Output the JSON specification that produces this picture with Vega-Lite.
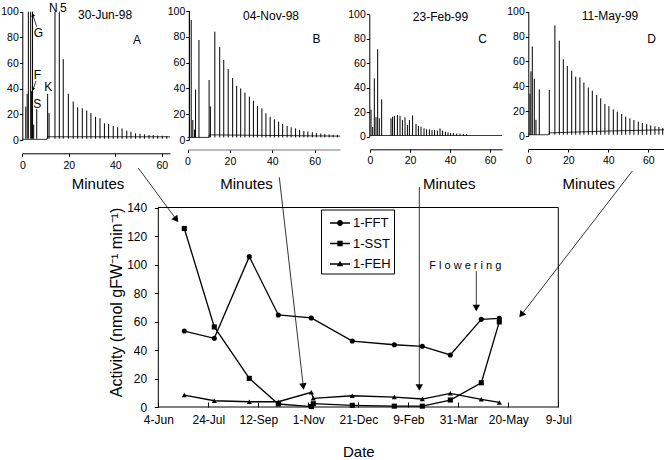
{
  "$schema": "https://vega.github.io/schema/vega-lite/v6.json",
  "width": 664,
  "height": 460,
  "autosize": {"type": "none"},
  "padding": 0,
  "config": {
    "font": "Liberation Sans",
    "view": {"stroke": null},
    "axis": {"grid": false, "domainColor": "black", "tickColor": "black", "labelColor": "black", "titleColor": "black", "titleFontWeight": "normal", "labelFlush": false, "labelOverlap": false, "labelBound": false},
    "text": {"color": "black"}
  },
  "datasets": {
    "main": [
      {"date": "1998-06-30", "series": "1-FFT", "value": 53.3},
      {"date": "1998-07-30", "series": "1-FFT", "value": 48.2},
      {"date": "1998-09-03", "series": "1-FFT", "value": 105.5},
      {"date": "1998-10-02", "series": "1-FFT", "value": 64.6},
      {"date": "1998-11-04", "series": "1-FFT", "value": 62.5},
      {"date": "1998-12-15", "series": "1-FFT", "value": 46.3},
      {"date": "1999-01-26", "series": "1-FFT", "value": 43.7},
      {"date": "1999-02-23", "series": "1-FFT", "value": 42.6},
      {"date": "1999-03-23", "series": "1-FFT", "value": 36.5},
      {"date": "1999-04-23", "series": "1-FFT", "value": 61.5},
      {"date": "1999-05-11", "series": "1-FFT", "value": 62.2},
      {"date": "1998-06-30", "series": "1-SST", "value": 125.3},
      {"date": "1998-07-30", "series": "1-SST", "value": 56.2},
      {"date": "1998-09-03", "series": "1-SST", "value": 20.1},
      {"date": "1998-10-02", "series": "1-SST", "value": 2.1},
      {"date": "1998-11-04", "series": "1-SST", "value": 0.3},
      {"date": "1998-11-06", "series": "1-SST", "value": 2.3},
      {"date": "1998-12-15", "series": "1-SST", "value": 1.2},
      {"date": "1999-01-26", "series": "1-SST", "value": 0.6},
      {"date": "1999-02-23", "series": "1-SST", "value": 0.6},
      {"date": "1999-03-23", "series": "1-SST", "value": 4.9},
      {"date": "1999-04-23", "series": "1-SST", "value": 17},
      {"date": "1999-05-11", "series": "1-SST", "value": 59.7},
      {"date": "1998-06-30", "series": "1-FEH", "value": 8.4},
      {"date": "1998-07-30", "series": "1-FEH", "value": 4.4},
      {"date": "1998-09-03", "series": "1-FEH", "value": 3.7},
      {"date": "1998-10-02", "series": "1-FEH", "value": 3.7},
      {"date": "1998-11-04", "series": "1-FEH", "value": 10.3},
      {"date": "1998-11-06", "series": "1-FEH", "value": 6.1},
      {"date": "1998-12-15", "series": "1-FEH", "value": 7.9},
      {"date": "1999-01-26", "series": "1-FEH", "value": 7.0},
      {"date": "1999-02-23", "series": "1-FEH", "value": 5.6},
      {"date": "1999-03-23", "series": "1-FEH", "value": 9.6},
      {"date": "1999-04-23", "series": "1-FEH", "value": 5.4},
      {"date": "1999-05-11", "series": "1-FEH", "value": 3.2}
    ],
    "arrows": [
      {"id": "A", "date": "1998-05-15", "value": 167.7, "date2": "1998-06-22", "value2": 131.6, "angle": 143},
      {"id": "B", "date": "1998-10-03", "value": 161.2, "date2": "1998-10-27", "value2": 14.4, "angle": 173.5},
      {"id": "C", "date": "1999-02-20", "value": 154.4, "date2": "1999-02-20", "value2": 13.7, "angle": 180},
      {"id": "D", "date": "1999-09-21", "value": 165.6, "date2": "1999-06-02", "value2": 64.7, "angle": 217.7},
      {"id": "Flowering", "date": "1999-04-18", "value": 95.4, "date2": "1999-04-18", "value2": 69.5, "angle": 180}
    ],
    "notes": [
      {"label": "F l o w e r i n g", "date": "1999-04-07", "value": 96.6}
    ],
    "baselines": [
      {"inset": "A", "min": 0, "b": 0.5}, {"inset": "A", "min": 10.6, "b": 0.5}, {"inset": "A", "min": 10.8, "b": 2.5}, {"inset": "A", "min": 63.5, "b": 2.5},
      {"inset": "B", "min": 0, "b": 2}, {"inset": "B", "min": 10, "b": 2}, {"inset": "B", "min": 10.3, "b": 4}, {"inset": "B", "min": 72, "b": 3},
      {"inset": "C", "min": 0, "b": 1}, {"inset": "C", "min": 66, "b": 1},
      {"inset": "D", "min": 0, "b": 1}, {"inset": "D", "min": 10.2, "b": 1}, {"inset": "D", "min": 10.4, "b": 2.5}, {"inset": "D", "min": 40, "b": 4}, {"inset": "D", "min": 68, "b": 5}
    ],
    "peaks": [
      {"inset": "A", "min": 1.5, "h": 26}, {"inset": "A", "min": 2.1, "h": 36}, {"inset": "A", "min": 2.6, "h": 100}, {"inset": "A", "min": 3.6, "h": 100}, {"inset": "A", "min": 4.0, "h": 38}, {"inset": "A", "min": 4.4, "h": 100}, {"inset": "A", "min": 4.9, "h": 12}, {"inset": "A", "min": 6.2, "h": 24},
      {"inset": "A", "min": 10.9, "h": 36}, {"inset": "A", "min": 11.5, "h": 21}, {"inset": "A", "min": 14.05, "h": 100}, {"inset": "A", "min": 15.9, "h": 100}, {"inset": "A", "min": 17.6, "h": 63}, {"inset": "A", "min": 19.8, "h": 36}, {"inset": "A", "min": 21.9, "h": 30}, {"inset": "A", "min": 23.8, "h": 25.5},
      {"inset": "A", "min": 25.8, "h": 24.7}, {"inset": "A", "min": 27.7, "h": 23}, {"inset": "A", "min": 29.5, "h": 21}, {"inset": "A", "min": 31.5, "h": 18}, {"inset": "A", "min": 33.4, "h": 17}, {"inset": "A", "min": 35.3, "h": 13}, {"inset": "A", "min": 37.1, "h": 12.5}, {"inset": "A", "min": 39.1, "h": 11},
      {"inset": "A", "min": 41.0, "h": 10}, {"inset": "A", "min": 42.9, "h": 9}, {"inset": "A", "min": 44.9, "h": 7.3}, {"inset": "A", "min": 46.7, "h": 6.5}, {"inset": "A", "min": 48.7, "h": 5.2}, {"inset": "A", "min": 50.6, "h": 4.8}, {"inset": "A", "min": 52.5, "h": 4.4}, {"inset": "A", "min": 54.5, "h": 4},
      {"inset": "A", "min": 56.3, "h": 3.8}, {"inset": "A", "min": 58.2, "h": 3.5}, {"inset": "A", "min": 60.2, "h": 3.3}, {"inset": "A", "min": 62.1, "h": 3.1},
      {"inset": "B", "min": 0.95, "h": 100}, {"inset": "B", "min": 1.75, "h": 93}, {"inset": "B", "min": 2.5, "h": 15.5}, {"inset": "B", "min": 3.3, "h": 8}, {"inset": "B", "min": 3.8, "h": 39}, {"inset": "B", "min": 5.4, "h": 77.5}, {"inset": "B", "min": 10.2, "h": 46.5}, {"inset": "B", "min": 10.8, "h": 26},
      {"inset": "B", "min": 12.9, "h": 84}, {"inset": "B", "min": 15.2, "h": 72}, {"inset": "B", "min": 17.1, "h": 62}, {"inset": "B", "min": 19.2, "h": 55}, {"inset": "B", "min": 21.3, "h": 48}, {"inset": "B", "min": 23.2, "h": 42}, {"inset": "B", "min": 25.1, "h": 40}, {"inset": "B", "min": 27.1, "h": 36.7},
      {"inset": "B", "min": 29.2, "h": 33.6}, {"inset": "B", "min": 31.1, "h": 30.5}, {"inset": "B", "min": 33.0, "h": 26.4}, {"inset": "B", "min": 35.1, "h": 24.5}, {"inset": "B", "min": 37.0, "h": 20.7}, {"inset": "B", "min": 39.0, "h": 18}, {"inset": "B", "min": 41.0, "h": 16}, {"inset": "B", "min": 43.0, "h": 14.2},
      {"inset": "B", "min": 44.9, "h": 12.4}, {"inset": "B", "min": 47.0, "h": 10.9}, {"inset": "B", "min": 48.9, "h": 9.8}, {"inset": "B", "min": 51.0, "h": 9}, {"inset": "B", "min": 52.9, "h": 7.8}, {"inset": "B", "min": 54.9, "h": 7}, {"inset": "B", "min": 56.8, "h": 6.5}, {"inset": "B", "min": 58.9, "h": 6},
      {"inset": "B", "min": 60.8, "h": 5.5}, {"inset": "B", "min": 62.9, "h": 5}, {"inset": "B", "min": 64.8, "h": 4.7}, {"inset": "B", "min": 66.8, "h": 4.3}, {"inset": "B", "min": 68.7, "h": 4}, {"inset": "B", "min": 70.7, "h": 3.8},
      {"inset": "C", "min": 0.5, "h": 22}, {"inset": "C", "min": 1.33, "h": 8}, {"inset": "C", "min": 2.17, "h": 47.7}, {"inset": "C", "min": 3.0, "h": 16}, {"inset": "C", "min": 3.83, "h": 71.4}, {"inset": "C", "min": 4.67, "h": 15}, {"inset": "C", "min": 5.83, "h": 30.5},
      {"inset": "C", "min": 10.5, "h": 15}, {"inset": "C", "min": 11.3, "h": 16.3}, {"inset": "C", "min": 12.2, "h": 17}, {"inset": "C", "min": 13.7, "h": 17.7}, {"inset": "C", "min": 15.0, "h": 17}, {"inset": "C", "min": 16.2, "h": 13.6}, {"inset": "C", "min": 17.5, "h": 15.8}, {"inset": "C", "min": 18.7, "h": 9.5},
      {"inset": "C", "min": 19.7, "h": 13.6}, {"inset": "C", "min": 21.3, "h": 17.4}, {"inset": "C", "min": 23.0, "h": 10.4}, {"inset": "C", "min": 24.2, "h": 8.7}, {"inset": "C", "min": 25.5, "h": 8.2}, {"inset": "C", "min": 27.0, "h": 6.8}, {"inset": "C", "min": 28.3, "h": 6}, {"inset": "C", "min": 29.7, "h": 6},
      {"inset": "C", "min": 31.0, "h": 5.5}, {"inset": "C", "min": 32.3, "h": 5.5}, {"inset": "C", "min": 33.7, "h": 5}, {"inset": "C", "min": 35.0, "h": 6.8}, {"inset": "C", "min": 36.3, "h": 5}, {"inset": "C", "min": 37.7, "h": 4}, {"inset": "C", "min": 39.0, "h": 3.5}, {"inset": "C", "min": 40.3, "h": 3},
      {"inset": "C", "min": 41.7, "h": 3}, {"inset": "C", "min": 43.3, "h": 2.5}, {"inset": "C", "min": 45.0, "h": 2.5}, {"inset": "C", "min": 46.7, "h": 2.2}, {"inset": "C", "min": 48.3, "h": 2},
      {"inset": "D", "min": 0.83, "h": 34}, {"inset": "D", "min": 1.33, "h": 52}, {"inset": "D", "min": 2.0, "h": 72}, {"inset": "D", "min": 3.0, "h": 46}, {"inset": "D", "min": 3.83, "h": 13}, {"inset": "D", "min": 5.5, "h": 37.5}, {"inset": "D", "min": 10.5, "h": 37}, {"inset": "D", "min": 13.3, "h": 89},
      {"inset": "D", "min": 15.5, "h": 76.7}, {"inset": "D", "min": 17.5, "h": 61.7}, {"inset": "D", "min": 19.5, "h": 56.3}, {"inset": "D", "min": 21.7, "h": 52.5}, {"inset": "D", "min": 23.7, "h": 47.7}, {"inset": "D", "min": 25.8, "h": 47.2}, {"inset": "D", "min": 27.8, "h": 43}, {"inset": "D", "min": 30.0, "h": 39},
      {"inset": "D", "min": 32.0, "h": 36.5}, {"inset": "D", "min": 34.2, "h": 33}, {"inset": "D", "min": 36.2, "h": 30.3}, {"inset": "D", "min": 38.3, "h": 25.7}, {"inset": "D", "min": 40.3, "h": 24}, {"inset": "D", "min": 42.5, "h": 21.4}, {"inset": "D", "min": 44.5, "h": 19.6}, {"inset": "D", "min": 46.7, "h": 17.7},
      {"inset": "D", "min": 48.7, "h": 15.5}, {"inset": "D", "min": 50.8, "h": 14.2}, {"inset": "D", "min": 52.8, "h": 12.9}, {"inset": "D", "min": 55.0, "h": 11.5}, {"inset": "D", "min": 57.0, "h": 10.5}, {"inset": "D", "min": 59.2, "h": 9.5}, {"inset": "D", "min": 61.2, "h": 8.5}, {"inset": "D", "min": 63.3, "h": 7.8},
      {"inset": "D", "min": 65.3, "h": 7.2}, {"inset": "D", "min": 67.2, "h": 6.5}
    ],
    "insetText": [
      {"inset": "A", "min": 35.6, "pct": 97.4, "label": "30-Jun-98"},
      {"inset": "A", "min": 49.3, "pct": 78, "label": "A"},
      {"inset": "A", "min": 13.3, "pct": 102.5, "label": "N"},
      {"inset": "A", "min": 17.6, "pct": 102.5, "label": "5"},
      {"inset": "A", "min": 6.9, "pct": 83.2, "label": "G"},
      {"inset": "A", "min": 6.45, "pct": 50.7, "label": "F"},
      {"inset": "A", "min": 6.45, "pct": 28, "label": "S"},
      {"inset": "A", "min": 11.2, "pct": 41.5, "label": "K"},
      {"inset": "B", "min": 39.4, "pct": 96.1, "label": "04-Nov-98"},
      {"inset": "B", "min": 60.9, "pct": 78, "label": "B"},
      {"inset": "C", "min": 35.25, "pct": 98, "label": "23-Feb-99"},
      {"inset": "C", "min": 56.35, "pct": 79.6, "label": "C"},
      {"inset": "D", "min": 40.85, "pct": 96.5, "label": "11-May-99"},
      {"inset": "D", "min": 61.7, "pct": 77.8, "label": "D"}
    ],
    "insetArrows": [
      {"min": 6.2, "pct": 88.3, "min2": 4.5, "pct2": 97.5, "angle": -18},
      {"min": 5.9, "pct": 46, "min2": 4.6, "pct2": 39.5, "angle": 200}
    ]
  },
  "layer": [
    {
      "resolve": {"scale": {"shape": "independent"}, "legend": {"shape": "independent"}},
      "layer": [
        {
          "data": {"name": "main"},
          "mark": {"type": "line", "color": "black", "strokeWidth": 1.3},
          "encoding": {
            "x": {"field": "date", "type": "temporal", "scale": {"type": "utc", "domain": [{"year": 1998, "month": 6, "date": 4, "utc": true}, {"year": 1999, "month": 7, "date": 9, "utc": true}], "range": [158.3, 558.3]},
              "axis": {"orient": "bottom", "offset": -53, "domain": false,
                "values": [{"year": 1998, "month": 6, "date": 4, "utc": true}, {"year": 1998, "month": 7, "date": 24, "utc": true}, {"year": 1998, "month": 9, "date": 12, "utc": true}, {"year": 1998, "month": 11, "date": 1, "utc": true}, {"year": 1998, "month": 12, "date": 21, "utc": true}, {"year": 1999, "month": 2, "date": 9, "utc": true}, {"year": 1999, "month": 3, "date": 31, "utc": true}, {"year": 1999, "month": 5, "date": 20, "utc": true}, {"year": 1999, "month": 7, "date": 9, "utc": true}],
                "labelExpr": "utcFormat(datum.value, '%-d-%b')", "tickSize": -5, "labelPadding": 12.8, "labelFontSize": 12,
                "title": "Date", "titleFontSize": 15, "titleBaseline": "alphabetic", "titleY": 49.5}},
            "y": {"field": "value", "type": "quantitative", "scale": {"domain": [0, 140], "range": [407, 207.5], "nice": false, "zero": false},
              "axis": {"orient": "left", "offset": -158.3, "domain": false, "values": [0, 20, 40, 60, 80, 100, 120, 140], "tickSize": 4, "labelPadding": 7.6, "labelFontSize": 12,
                "title": "Activity (nmol gFW⁻¹ min⁻¹)", "titleFontSize": 16, "titleX": -41.5, "titleY": 302, "titleBaseline": "middle", "titleAlign": "center"}},
            "detail": {"field": "series", "type": "nominal"}
          }
        },
        {
          "data": {"values": [{}]},
          "mark": {"type": "rect", "fill": null, "stroke": "black", "strokeWidth": 1},
          "encoding": {
            "x": {"datum": {"year": 1998, "month": 6, "date": 4, "utc": true}, "type": "temporal"},
            "x2": {"datum": {"year": 1999, "month": 7, "date": 9, "utc": true}},
            "y": {"datum": 0, "type": "quantitative"},
            "y2": {"datum": 140}
          }
        },
        {
          "data": {"name": "main"},
          "mark": {"type": "point", "filled": true, "color": "black", "size": 26, "opacity": 1},
          "encoding": {
            "x": {"field": "date", "type": "temporal"},
            "y": {"field": "value", "type": "quantitative"},
            "shape": {"field": "series", "type": "nominal",
              "scale": {"domain": ["1-FFT", "1-SST", "1-FEH"], "range": ["circle", "square", "triangle-up"]},
              "legend": null}
          }
        },
        {
          "data": {"name": "main"},
          "transform": [{"filter": "false"}],
          "mark": {"type": "point", "filled": true, "color": "black", "opacity": 1},
          "encoding": {
            "x": {"field": "date", "type": "temporal"},
            "y": {"field": "value", "type": "quantitative"},
            "shape": {"field": "series", "type": "nominal",
              "scale": {"domain": ["1-FFT", "1-SST", "1-FEH"], "range": ["M-1,-0.065H1V0.065H-1ZM0.3,0A0.3,0.3,0,1,1,-0.3,0A0.3,0.3,0,1,1,0.3,0Z", "M-1,-0.065H1V0.065H-1ZM-0.27,-0.27H0.27V0.27H-0.27Z", "M-1,-0.065H1V0.065H-1ZM0,-0.33L0.32,0.23H-0.32Z"]},
              "legend": {"title": null, "orient": "none", "legendX": 321, "legendY": 209.5, "strokeColor": "black", "fillColor": "white", "padding": 2.5,
                "symbolOffset": 5.5, "symbolSize": 400, "rowPadding": 2.5, "labelFontSize": 13, "labelOffset": 2, "labelColor": "black",
                "symbolFillColor": "black", "symbolOpacity": 1}
            }
          }
        },
        {
          "data": {"name": "arrows"},
          "mark": {"type": "rule", "color": "black", "strokeWidth": 0.8},
          "encoding": {
            "x": {"field": "date", "type": "temporal"},
            "x2": {"field": "date2"},
            "y": {"field": "value", "type": "quantitative"},
            "y2": {"field": "value2"}
          }
        },
        {
          "data": {"name": "arrows"},
          "mark": {"type": "point", "shape": "triangle-up", "filled": true, "color": "black", "size": 55, "opacity": 1},
          "encoding": {
            "x": {"field": "date2", "type": "temporal"},
            "y": {"field": "value2", "type": "quantitative"},
            "angle": {"field": "angle", "type": "quantitative", "scale": null}
          }
        },
        {
          "data": {"name": "notes"},
          "mark": {"type": "text", "fontSize": 11, "align": "center", "baseline": "alphabetic"},
          "encoding": {
            "x": {"field": "date", "type": "temporal"},
            "y": {"field": "value", "type": "quantitative"},
            "text": {"field": "label"}
          }
        }
      ]
    },
    {
      "layer": [
        {
          "data": {"name": "baselines"},
          "transform": [{"filter": "datum.inset === 'A'"}],
          "mark": {"type": "line", "color": "black", "strokeWidth": 0.8},
          "encoding": {
            "x": {"field": "min", "type": "quantitative", "scale": {"domain": [0, 63.5], "range": [22.3, 170], "nice": false, "zero": false},
              "axis": {"orient": "bottom", "offset": -306.7, "values": [0, 20, 40, 60], "tickSize": 3, "labelPadding": 4, "labelFontSize": 10.5,
                "title": "Minutes", "titleFontSize": 15, "titleBaseline": "alphabetic", "titleX": 97.5, "titleY": 35}},
            "y": {"field": "b", "type": "quantitative", "scale": {"domain": [0, 100], "range": [140, 11.7], "nice": false, "zero": false},
              "axis": {"orient": "left", "offset": -22.3, "values": [0, 20, 40, 60, 80, 100], "tickSize": 3, "labelPadding": 1, "labelFontSize": 10.5, "title": null}}
          }
        },
        {
          "data": {"name": "peaks"},
          "transform": [{"filter": "datum.inset === 'A'"}],
          "mark": {"type": "rule", "color": "black", "strokeWidth": 1},
          "encoding": {
            "x": {"field": "min", "type": "quantitative"},
            "y": {"field": "h", "type": "quantitative"},
            "y2": {"datum": 1}
          }
        },
        {
          "data": {"name": "insetText"},
          "transform": [{"filter": "datum.inset === 'A'"}],
          "mark": {"type": "text", "fontSize": 12, "align": "center", "baseline": "middle"},
          "encoding": {
            "x": {"field": "min", "type": "quantitative"},
            "y": {"field": "pct", "type": "quantitative"},
            "text": {"field": "label"}
          }
        },
        {
          "data": {"name": "insetArrows"},
          "mark": {"type": "rule", "color": "black", "strokeWidth": 0.8},
          "encoding": {
            "x": {"field": "min", "type": "quantitative"},
            "x2": {"field": "min2"},
            "y": {"field": "pct", "type": "quantitative"},
            "y2": {"field": "pct2"}
          }
        },
        {
          "data": {"name": "insetArrows"},
          "mark": {"type": "point", "shape": "triangle-up", "filled": true, "color": "black", "size": 14, "opacity": 1},
          "encoding": {
            "x": {"field": "min2", "type": "quantitative"},
            "y": {"field": "pct2", "type": "quantitative"},
            "angle": {"field": "angle", "type": "quantitative", "scale": null}
          }
        }
      ]
    },
    {
      "layer": [
        {
          "data": {"name": "baselines"},
          "transform": [{"filter": "datum.inset === 'B'"}],
          "mark": {"type": "line", "color": "black", "strokeWidth": 0.8},
          "encoding": {
            "x": {"field": "min", "type": "quantitative", "scale": {"domain": [0, 72], "range": [187.5, 340.1], "nice": false, "zero": false},
              "axis": {"orient": "bottom", "offset": -310.5, "values": [0, 20, 40, 60], "tickSize": 3, "labelPadding": 3.5, "labelFontSize": 10.5, "domainColor": "#777",
                "title": "Minutes", "titleFontSize": 15, "titleBaseline": "alphabetic", "titleX": 246, "titleY": 39}},
            "y": {"field": "b", "type": "quantitative", "scale": {"domain": [0, 100], "range": [140, 11], "nice": false, "zero": false},
              "axis": {"orient": "left", "offset": -188.8, "values": [0, 20, 40, 60, 80, 100], "tickSize": 3, "labelPadding": 1, "labelFontSize": 10.5, "title": null}}
          }
        },
        {
          "data": {"name": "peaks"},
          "transform": [{"filter": "datum.inset === 'B'"}],
          "mark": {"type": "rule", "color": "black", "strokeWidth": 1},
          "encoding": {
            "x": {"field": "min", "type": "quantitative"},
            "y": {"field": "h", "type": "quantitative"},
            "y2": {"datum": 2}
          }
        },
        {
          "data": {"name": "insetText"},
          "transform": [{"filter": "datum.inset === 'B'"}],
          "mark": {"type": "text", "fontSize": 12, "align": "center", "baseline": "middle"},
          "encoding": {
            "x": {"field": "min", "type": "quantitative"},
            "y": {"field": "pct", "type": "quantitative"},
            "text": {"field": "label"}
          }
        }
      ]
    },
    {
      "layer": [
        {
          "data": {"name": "baselines"},
          "transform": [{"filter": "datum.inset === 'C'"}],
          "mark": {"type": "line", "color": "black", "strokeWidth": 0.8},
          "encoding": {
            "x": {"field": "min", "type": "quantitative", "scale": {"domain": [0, 66], "range": [370, 502], "nice": false, "zero": false},
              "axis": {"orient": "bottom", "offset": -310.7, "values": [0, 20, 40, 60], "tickSize": 3, "labelPadding": 3.5, "labelFontSize": 10.5,
                "title": "Minutes", "titleFontSize": 15, "titleBaseline": "alphabetic", "titleX": 448.7, "titleY": 39}},
            "y": {"field": "b", "type": "quantitative", "scale": {"domain": [0, 100], "range": [136.7, 14.3], "nice": false, "zero": false},
              "axis": {"orient": "left", "offset": -369.3, "values": [0, 20, 40, 60, 80, 100], "tickSize": 3, "labelPadding": 1, "labelFontSize": 10.5, "title": null}}
          }
        },
        {
          "data": {"name": "peaks"},
          "transform": [{"filter": "datum.inset === 'C'"}],
          "mark": {"type": "rule", "color": "black", "strokeWidth": 1},
          "encoding": {
            "x": {"field": "min", "type": "quantitative"},
            "y": {"field": "h", "type": "quantitative"},
            "y2": {"datum": 1}
          }
        },
        {
          "data": {"name": "insetText"},
          "transform": [{"filter": "datum.inset === 'C'"}],
          "mark": {"type": "text", "fontSize": 12, "align": "center", "baseline": "middle"},
          "encoding": {
            "x": {"field": "min", "type": "quantitative"},
            "y": {"field": "pct", "type": "quantitative"},
            "text": {"field": "label"}
          }
        }
      ]
    },
    {
      "layer": [
        {
          "data": {"name": "baselines"},
          "transform": [{"filter": "datum.inset === 'D'"}],
          "mark": {"type": "line", "color": "black", "strokeWidth": 0.8},
          "encoding": {
            "x": {"field": "min", "type": "quantitative", "scale": {"domain": [0, 68], "range": [528.3, 664.3], "nice": false, "zero": false},
              "axis": {"orient": "bottom", "offset": -311, "values": [0, 20, 40, 60], "tickSize": 3, "labelPadding": 3.5, "labelFontSize": 10.5,
                "title": "Minutes", "titleFontSize": 15, "titleBaseline": "alphabetic", "titleX": 588.3, "titleY": 39}},
            "y": {"field": "b", "type": "quantitative", "scale": {"domain": [0, 100], "range": [136, 11.7], "nice": false, "zero": false},
              "axis": {"orient": "left", "offset": -528.3, "values": [0, 20, 40, 60, 80, 100], "tickSize": 3, "labelPadding": 1, "labelFontSize": 10.5, "title": null}}
          }
        },
        {
          "data": {"name": "peaks"},
          "transform": [{"filter": "datum.inset === 'D'"}],
          "mark": {"type": "rule", "color": "black", "strokeWidth": 1},
          "encoding": {
            "x": {"field": "min", "type": "quantitative"},
            "y": {"field": "h", "type": "quantitative"},
            "y2": {"datum": 1}
          }
        },
        {
          "data": {"name": "insetText"},
          "transform": [{"filter": "datum.inset === 'D'"}],
          "mark": {"type": "text", "fontSize": 12, "align": "center", "baseline": "middle"},
          "encoding": {
            "x": {"field": "min", "type": "quantitative"},
            "y": {"field": "pct", "type": "quantitative"},
            "text": {"field": "label"}
          }
        }
      ]
    }
  ],
  "resolve": {"scale": {"x": "independent", "y": "independent"}, "axis": {"x": "independent", "y": "independent"}}
}
